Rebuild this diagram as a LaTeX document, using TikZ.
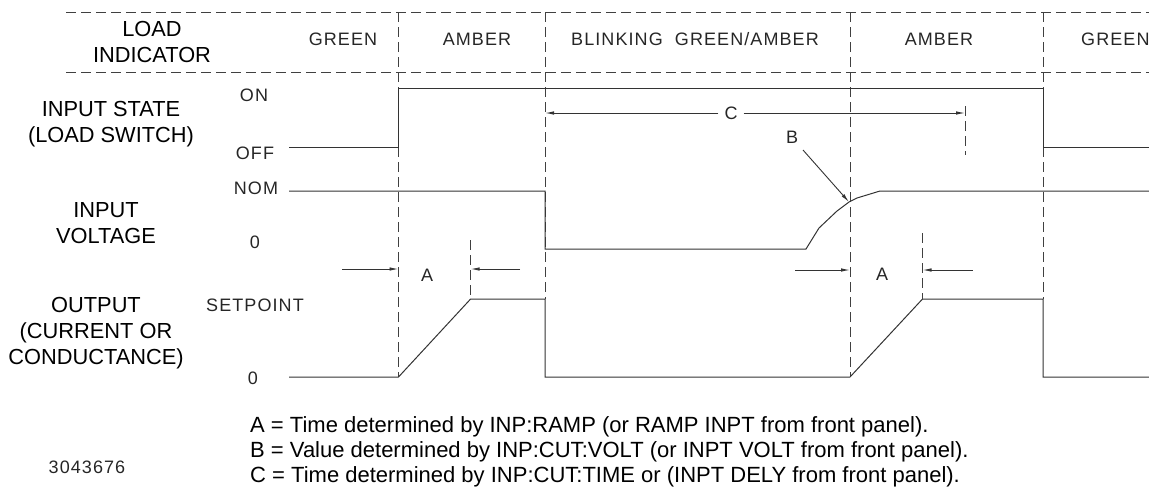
\documentclass[tikz,border=0pt]{standalone}
\usepackage{fontspec}
\setmainfont{Liberation Sans}
\newfontfamily\cad[LetterSpace=6]{Liberation Sans}
\usetikzlibrary{arrows.meta}
\begin{document}
\begin{tikzpicture}[x=1pt,y=-1pt,
  sig/.style={line width=1pt, draw=black!80},
  grid/.style={line width=0.9pt, draw=black!75, dash pattern=on 10pt off 5pt},
  dim/.style={line width=0.9pt, draw=black!80, -{Latex[length=9pt,width=3.5pt]}},
  lbl/.style={font=\fontsize{21.8}{26}\selectfont, align=center, inner sep=0pt},
  cadl/.style={font=\cad\fontsize{18}{20}\selectfont, text=black!85, inner sep=0pt},
  note/.style={font=\fontsize{22}{25}\selectfont, anchor=west, inner sep=0pt}]
\useasboundingbox (0,0) rectangle (1149,491);
% grid
\draw[grid] (66,12) -- (1149,12);
\draw[grid] (66,72) -- (1149,72);
\draw[grid] (398.5,12) -- (398.5,377);
\draw[grid] (545,12) -- (545,299);
\draw[grid] (850,12) -- (850,377);
\draw[grid] (1043,12) -- (1043,299);
% header
\node[lbl] (li) at (152,42) {LOAD\\INDICATOR};
\node[cadl] (g1) at (343,39) {GREEN};
\node[cadl] (a1) at (477,39) {AMBER};
\node[cadl] (bl) at (695,39) {BLINKING\ \ GREEN/AMBER};
\node[cadl] (a2) at (939,39) {AMBER};
\node[cadl, anchor=west] (g2) at (1081,39) {GREEN};
% left labels
\node[lbl] (is) at (111,124) {INPUT STATE\\(LOAD SWITCH)};
\node[lbl] (iv) at (106,223) {INPUT\\VOLTAGE};
\node[lbl] (op) at (96,333) {OUTPUT\\(CURRENT OR\\CONDUCTANCE)};
% level labels
\node[cadl] (on) at (254,95) {ON};
\node[cadl] (off) at (255,153) {OFF};
\node[cadl] (nom) at (256,188) {NOM};
\node[cadl] (z1) at (255,242) {0};
\node[cadl] (sp) at (255,305) {SETPOINT};
\node[cadl] (z2) at (253,378) {0};
% signals
\draw[sig] (289,147) -- (398.5,147) -- (398.5,88) -- (1043,88) -- (1043,147) -- (1149,147);
\draw[sig] (289,191) -- (545,191) -- (545,249) -- (806,249) -- (819,228) -- (837,211) -- (849,202) -- (857,198) -- (880,191) -- (1149,191);
\draw[sig] (289,377) -- (398.5,377) -- (470.6,299) -- (545,299) -- (545,377) -- (850,377) -- (922.5,299) -- (1043,299) -- (1043,377) -- (1149,377);
% A dimensions
\draw[grid] (470.6,240) -- (470.6,299);
\draw[grid] (922.5,233) -- (922.5,299);
\node[cadl] (A1) at (427,275) {A};
\node[cadl] (A2) at (882,274) {A};
\coordinate (a1l) at (342,269); \coordinate (a1le) at (398.5,269);
\coordinate (a1r) at (520,269); \coordinate (a1re) at (470.6,269);
\coordinate (a2l) at (795,270); \coordinate (a2le) at (850,270);
\coordinate (a2r) at (972.5,270); \coordinate (a2re) at (922.5,270);
\draw[dim] (a1l) -- (a1le);
\draw[dim] (a1r) -- (a1re);
\draw[dim] (a2l) -- (a2le);
\draw[dim] (a2r) -- (a2re);
% C dimension
\draw[grid] (965,106) -- (965,155);
\node[cadl, inner xsep=6pt] (C) at (731,113) {C};
\coordinate (cl) at (545,113); \coordinate (cr) at (965,113);
\draw[dim] (C.west) -- (cl);
\draw[dim] (C.east) -- (cr);
% B
\node[cadl] (B) at (792,137) {B};
\coordinate (bs) at (803,150); \coordinate (bt) at (849,202);
\draw[dim] (bs) -- (bt);
% notes
\node[note] (nA) at (250,427) {A = Time determined by INP:RAMP (or RAMP INPT from front panel).};
\node[note] (nB) at (250,452) {B = Value determined by INP:CUT:VOLT (or INPT VOLT from front panel).};
\node[note] (nC) at (250,477) {C = Time determined by INP:CUT:TIME or (INPT DELY from front panel).};
\node[cadl] (id) at (87,467) {3043676};
\end{tikzpicture}
\end{document}
